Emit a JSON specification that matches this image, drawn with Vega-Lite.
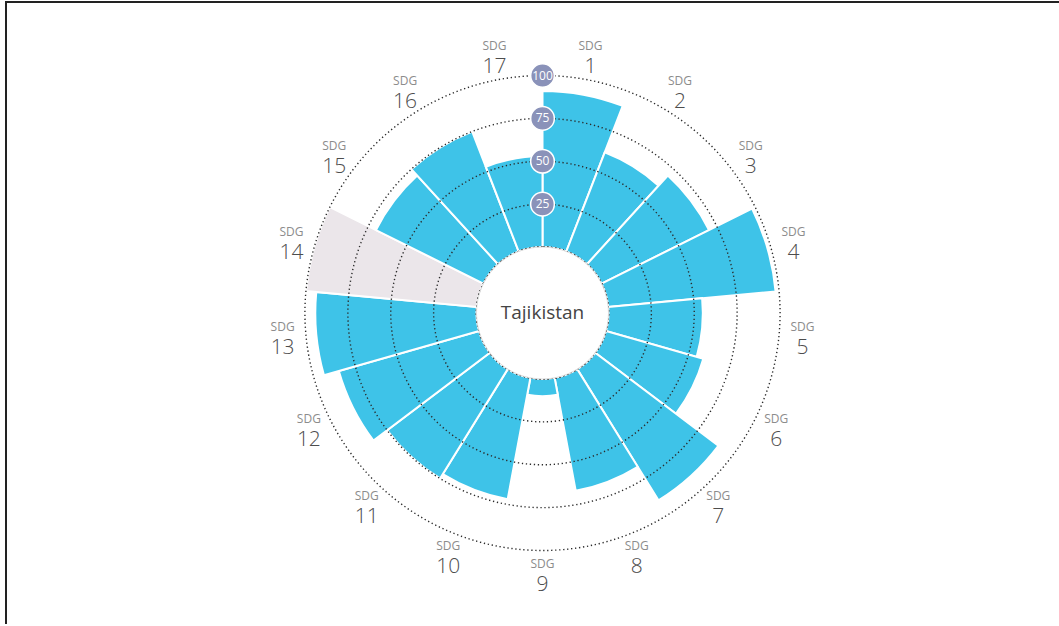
{
  "$schema": "https://vega.github.io/schema/vega-lite/v6.json",
  "width": 1073,
  "height": 622,
  "autosize": {"type": "none"},
  "padding": {"left": 6, "top": 2, "right": -20, "bottom": 2},
  "background": "white",
  "config": {
    "font": "Open Sans",
    "view": {"stroke": "#222222", "strokeWidth": 2, "strokeDash": [1073, 1695, 622]}
  },
  "datasets": {
    "sdg": [
      {"n": 1, "w": 1, "v": 91, "status": "score"},
      {"n": 2, "w": 1, "v": 62, "status": "score"},
      {"n": 3, "w": 1, "v": 70, "status": "score"},
      {"n": 4, "w": 1, "v": 98, "status": "score"},
      {"n": 5, "w": 1, "v": 55, "status": "score"},
      {"n": 6, "w": 1, "v": 59, "status": "score"},
      {"n": 7, "w": 1, "v": 90, "status": "score"},
      {"n": 8, "w": 1, "v": 67, "status": "score"},
      {"n": 9, "w": 1, "v": 10, "status": "score"},
      {"n": 10, "w": 1, "v": 72, "status": "score"},
      {"n": 11, "w": 1, "v": 75, "status": "score"},
      {"n": 12, "w": 1, "v": 85, "status": "score"},
      {"n": 13, "w": 1, "v": 94, "status": "score"},
      {"n": 14, "w": 1, "v": 100, "status": "no data"},
      {"n": 15, "w": 1, "v": 70, "status": "score"},
      {"n": 16, "w": 1, "v": 75, "status": "score"},
      {"n": 17, "w": 1, "v": 53, "status": "score"}
    ],
    "rings": [{"r": 25}, {"r": 50}, {"r": 75}, {"r": 100}],
    "center": [{"name": "Tajikistan"}]
  },
  "layer": [
    {
      "data": {"name": "sdg"},
      "transform": [{"stack": "w", "groupby": [], "sort": [{"field": "n", "order": "ascending"}], "as": ["t0", "t1"]}],
      "mark": {"type": "arc", "innerRadius": 66, "stroke": "white", "strokeWidth": 2},
      "encoding": {
        "theta": {"field": "t0", "type": "quantitative", "stack": null, "scale": {"domain": [0, 17]}},
        "theta2": {"field": "t1"},
        "radius": {"field": "v", "type": "quantitative", "stack": null, "scale": {"type": "linear", "domain": [0, 100], "range": [66, 237.5]}},
        "color": {"field": "status", "type": "nominal", "scale": {"domain": ["score", "no data"], "range": ["#3ec3e8", "#ebe6ea"]}, "legend": null}
      }
    },
    {
      "data": {"name": "rings"},
      "mark": {"type": "arc", "theta": 0, "theta2": 6.2832, "fillOpacity": 0, "stroke": "#2b2b2b", "strokeWidth": 1.4, "strokeDash": [1.3, 2.7]},
      "encoding": {
        "radius": {"field": "r", "type": "quantitative", "stack": null}
      }
    },
    {
      "data": {"name": "center"},
      "mark": {"type": "arc", "theta": 0, "theta2": 6.2832, "radius": 66, "fill": "white", "stroke": "#dddddd", "strokeWidth": 1},
      "encoding": {}
    },
    {
      "data": {"name": "center"},
      "mark": {"type": "text", "fontSize": 19, "color": "#444444"},
      "encoding": {"text": {"field": "name"}}
    },
    {
      "data": {"name": "rings"},
      "mark": {"type": "circle", "size": 560, "color": "#8a92b9", "opacity": 1, "stroke": "white", "strokeWidth": 1.5},
      "encoding": {
        "x": {"datum": 0, "type": "quantitative", "scale": {"domain": [-1, 1]}, "axis": null},
        "y": {"field": "r", "type": "quantitative", "scale": {"domain": [0, 100], "range": [245, 73.5]}, "axis": null}
      }
    },
    {
      "data": {"name": "rings"},
      "mark": {"type": "text", "fontSize": 12, "color": "white"},
      "encoding": {
        "x": {"datum": 0, "type": "quantitative"},
        "y": {"field": "r", "type": "quantitative"},
        "text": {"field": "r"}
      }
    },
    {
      "data": {"name": "sdg"},
      "mark": {"type": "text", "fontSize": 12, "color": "#8c8c8c", "dy": -10},
      "encoding": {
        "theta": {"field": "w", "type": "quantitative", "stack": true},
        "radius": {"value": 261},
        "detail": {"field": "n"},
        "order": {"field": "n", "type": "quantitative"},
        "text": {"value": "SDG"}
      }
    },
    {
      "data": {"name": "sdg"},
      "mark": {"type": "text", "fontSize": 21, "fontWeight": 300, "color": "#4d4d4d", "dy": 11},
      "encoding": {
        "theta": {"field": "w", "type": "quantitative", "stack": true},
        "radius": {"value": 261},
        "detail": {"field": "n"},
        "order": {"field": "n", "type": "quantitative"},
        "text": {"field": "n"}
      }
    }
  ]
}
